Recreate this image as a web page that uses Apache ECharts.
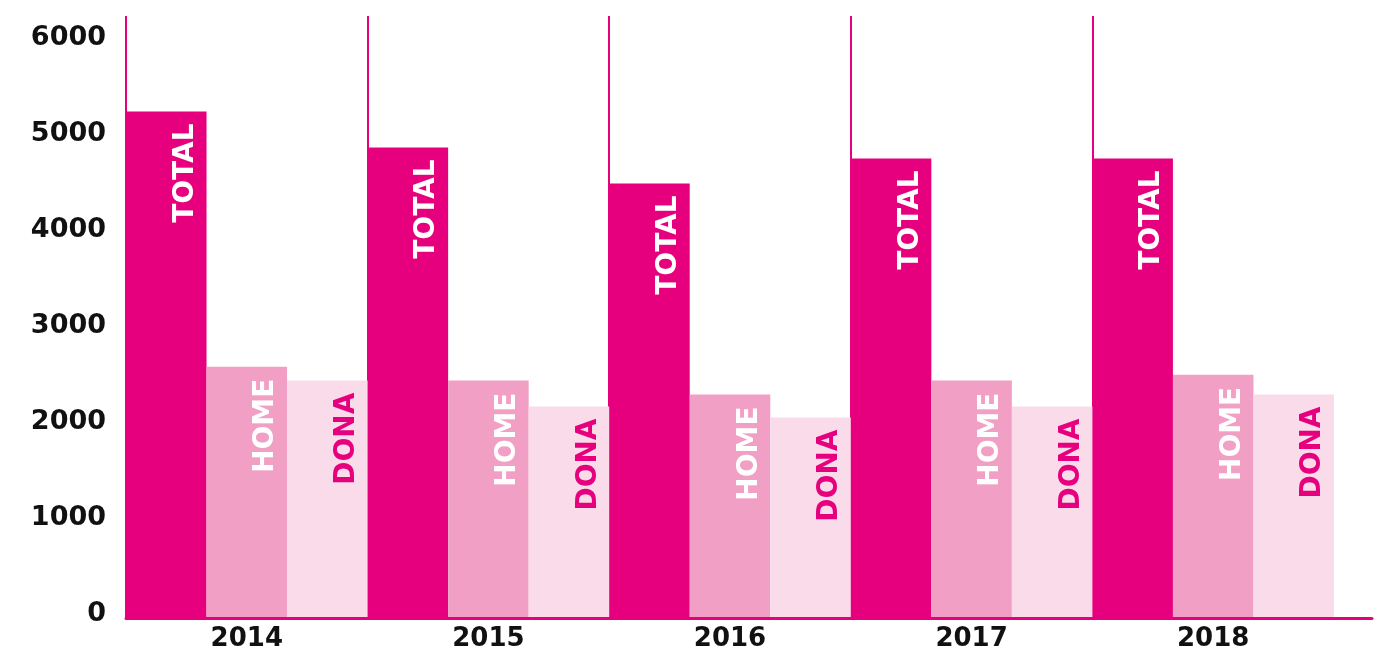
<!DOCTYPE html>
<html>
<head>
<meta charset="utf-8">
<script src="https://cdn.jsdelivr.net/npm/echarts@6/dist/echarts.min.js"></script>
<style>
  html, body { margin: 0; padding: 0; background: #fff; }
  #chart { width: 1386px; height: 652px; }
</style>
</head>
<body>
<div id="chart"></div>
<script>
const years = ['2014', '2015', '2016', '2017', '2018'];
const totalValues = [5280, 4905, 4530, 4790, 4790];
const homeValues = [2620, 2475, 2330, 2475, 2535];
const donaValues = [2475, 2205, 2090, 2205, 2330];

const PINK = '#e6007e';
const FONT = 'DejaVu Sans';

// rotated label sitting near the top right of each bar
const barLabel = (text, color) => ({
  show: true,
  formatter: text,
  position: ['74%', 12],
  rotate: 90,
  align: 'right',
  verticalAlign: 'middle',
  color,
  fontFamily: FONT,
  fontWeight: 'bold',
  fontSize: 28,
});

const chart = echarts.init(document.getElementById('chart'));

chart.setOption({
  backgroundColor: '#fff',
  animation: false,
  grid: [
    { left: 126, right: 52, top: 16, bottom: 34 },
    { left: 126, right: 14, top: 16, bottom: 34 },
  ],
  xAxis: [
    {
      type: 'category',
      gridIndex: 0,
      data: years,
      axisLine: { show: false },
      axisTick: { show: false },
      axisLabel: {
        color: '#111',
        fontFamily: FONT,
        fontWeight: 'bold',
        fontSize: 26,
        margin: 8,
      },
      splitLine: {
        show: true,
        showMaxLine: false,
        lineStyle: { color: PINK, width: 2 },
      },
    },
    {
      // only used for the long baseline, drawn over the bars
      type: 'value',
      gridIndex: 1,
      min: 0,
      max: 1,
      z: 5,
      axisLine: { show: true, lineStyle: { color: PINK, width: 3 } },
      axisTick: { show: false },
      axisLabel: { show: false },
      splitLine: { show: false },
    },
  ],
  yAxis: [
    {
      type: 'value',
      gridIndex: 0,
      min: 0,
      max: 6275,
      interval: 1000,
      axisLine: { show: false },
      axisTick: { show: false },
      splitLine: { show: false },
      axisLabel: {
        showMaxLabel: false,
        formatter: (v) => String(v),
        color: '#111',
        fontFamily: FONT,
        fontWeight: 'bold',
        fontSize: 27,
        margin: 20,
        verticalAlign: 'bottom',
        lineHeight: 9,
      },
    },
    {
      type: 'value',
      gridIndex: 1,
      min: 0,
      max: 1,
      show: false,
    },
  ],
  series: [
    {
      name: 'TOTAL',
      type: 'bar',
      data: totalValues,
      barGap: '0%',
      barCategoryGap: '0%',
      itemStyle: { color: PINK },
      label: barLabel('TOTAL', '#fff'),
    },
    {
      name: 'HOME',
      type: 'bar',
      data: homeValues,
      itemStyle: { color: '#f29fc5' },
      label: barLabel('HOME', '#fff'),
    },
    {
      name: 'DONA',
      type: 'bar',
      data: donaValues,
      itemStyle: { color: '#fadbe9' },
      label: barLabel('DONA', PINK),
    },
  ],
});

window.addEventListener('resize', () => chart.resize());
</script>
</body>
</html>
